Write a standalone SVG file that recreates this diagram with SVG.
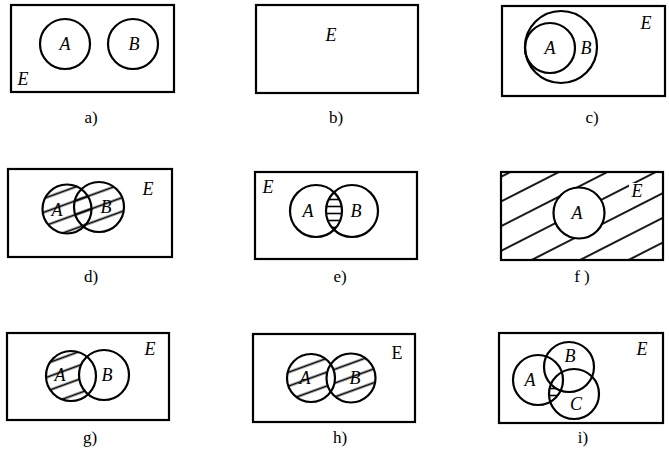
<svg xmlns="http://www.w3.org/2000/svg" width="669" height="456" viewBox="0 0 669 456">
<style>
.box{fill:none;stroke:#000;stroke-width:2.2}
.c{fill:none;stroke:#000;stroke-width:2.2}
.w{fill:#fff;stroke:none}
.lb{font-family:"Liberation Serif",serif;font-style:italic;font-size:18px;text-anchor:middle}
.cap{font-family:"Liberation Serif",serif;font-size:17px;text-anchor:middle}
</style>
<defs>
<pattern id="hd" width="13" height="13" patternUnits="userSpaceOnUse" patternTransform="rotate(-20)"><line x1="0" y1="6.5" x2="13" y2="6.5" stroke="#000" stroke-width="1.8"/></pattern>
<pattern id="hf" width="22" height="22" patternUnits="userSpaceOnUse" patternTransform="rotate(-27)"><line x1="0" y1="11" x2="22" y2="11" stroke="#000" stroke-width="1.8"/></pattern>
<pattern id="hh" width="7" height="7" patternUnits="userSpaceOnUse"><line x1="0" y1="3.5" x2="7" y2="3.5" stroke="#000" stroke-width="1.6"/></pattern>
<clipPath id="cAe"><circle cx="316" cy="211" r="26"/></clipPath>
<clipPath id="cAh"><circle cx="311" cy="378" r="24"/></clipPath>
<clipPath id="cAi"><circle cx="538" cy="380" r="25"/></clipPath>
<clipPath id="cCi" clip-path="url(#cAi)"><circle cx="574" cy="394" r="25"/></clipPath>
</defs>

<g id="panel-a">
<rect class="box" x="11" y="5" width="163" height="87"/>
<circle class="c" cx="65" cy="44" r="25"/>
<circle class="c" cx="133" cy="44" r="25"/>
<text class="lb" x="65" y="50">A</text>
<text class="lb" x="134" y="50">B</text>
<text class="lb" x="23" y="85">E</text>
<text class="cap" x="91" y="123">a)</text>
</g>

<g id="panel-b">
<rect class="box" x="256" y="5" width="162" height="88"/>
<text class="lb" x="331" y="41">E</text>
<text class="cap" x="336" y="123">b)</text>
</g>

<g id="panel-c">
<rect class="box" x="502" y="6" width="163" height="90"/>
<circle class="c" cx="561" cy="47" r="36"/>
<circle class="c" cx="550" cy="48" r="25" stroke-width="2.7"/>
<text class="lb" x="550" y="54">A</text>
<text class="lb" x="586" y="54">B</text>
<text class="lb" x="646" y="29">E</text>
<text class="cap" x="592" y="123">c)</text>
</g>

<g id="panel-d">
<rect class="box" x="8" y="169" width="164" height="88"/>
<circle cx="67" cy="209" r="24.5" fill="url(#hd)"/>
<circle cx="99" cy="207" r="25" fill="url(#hd)"/>
<circle class="c" cx="67" cy="209" r="24.5"/>
<circle class="c" cx="99" cy="207" r="25"/>
<text class="lb" x="57" y="216">A</text>
<text class="lb" x="106" y="213">B</text>
<text class="lb" x="148" y="195">E</text>
<text class="cap" x="91" y="282">d)</text>
</g>

<g id="panel-e">
<rect class="box" x="255" y="172" width="162" height="87"/>
<circle cx="352" cy="211" r="26" fill="url(#hh)" clip-path="url(#cAe)"/>
<circle class="c" cx="316" cy="211" r="26"/>
<circle class="c" cx="352" cy="211" r="26"/>
<text class="lb" x="308" y="217">A</text>
<text class="lb" x="356" y="217">B</text>
<text class="lb" x="268" y="193">E</text>
<text class="cap" x="340" y="282">e)</text>
</g>

<g id="panel-f">
<rect x="501" y="172" width="162" height="88" fill="url(#hf)"/>
<circle cx="579" cy="213" r="25.5" fill="#fff"/>
<rect class="box" x="501" y="172" width="162" height="88"/>
<circle class="c" cx="579" cy="213" r="25.5"/>
<rect class="w" x="629" y="183" width="14" height="16"/>
<text class="lb" x="637" y="197">E</text>
<text class="lb" x="577" y="219">A</text>
<text class="cap" x="582" y="282">f )</text>
</g>

<g id="panel-g">
<rect class="box" x="7" y="333" width="162" height="87"/>
<circle cx="71" cy="376" r="25" fill="url(#hd)"/>
<circle cx="104" cy="375" r="25" fill="#fff"/>
<circle class="c" cx="71" cy="376" r="25"/>
<circle class="c" cx="104" cy="375" r="25"/>
<text class="lb" x="60" y="381">A</text>
<text class="lb" x="107" y="381">B</text>
<text class="lb" x="150" y="355">E</text>
<text class="cap" x="90" y="443">g)</text>
</g>

<g id="panel-h">
<rect class="box" x="253" y="334" width="162" height="88"/>
<circle cx="311" cy="378" r="24" fill="url(#hd)"/>
<circle cx="351" cy="378" r="24.5" fill="url(#hd)"/>
<circle cx="351" cy="378" r="24.5" fill="#fff" clip-path="url(#cAh)"/>
<circle class="c" cx="311" cy="378" r="24"/>
<circle class="c" cx="351" cy="378" r="24.5"/>
<text class="lb" x="305" y="384">A</text>
<text class="lb" x="355" y="384">B</text>
<text x="397" y="359" font-family="Liberation Serif,serif" font-size="18" text-anchor="middle">E</text>
<text class="cap" x="340" y="443">h)</text>
</g>

<g id="panel-i">
<rect class="box" x="499" y="333" width="164" height="90"/>
<rect x="520" y="360" width="60" height="60" fill="url(#hh)" clip-path="url(#cCi)"/>
<circle cx="569" cy="367" r="25" fill="#fff"/>
<circle class="c" cx="538" cy="380" r="25"/>
<circle class="c" cx="569" cy="367" r="25"/>
<circle class="c" cx="574" cy="394" r="25"/>
<text class="lb" x="530" y="386">A</text>
<text class="lb" x="570" y="362">B</text>
<text class="lb" x="576" y="410">C</text>
<text class="lb" x="642" y="355">E</text>
<text class="cap" x="583" y="443">i)</text>
</g>
</svg>
